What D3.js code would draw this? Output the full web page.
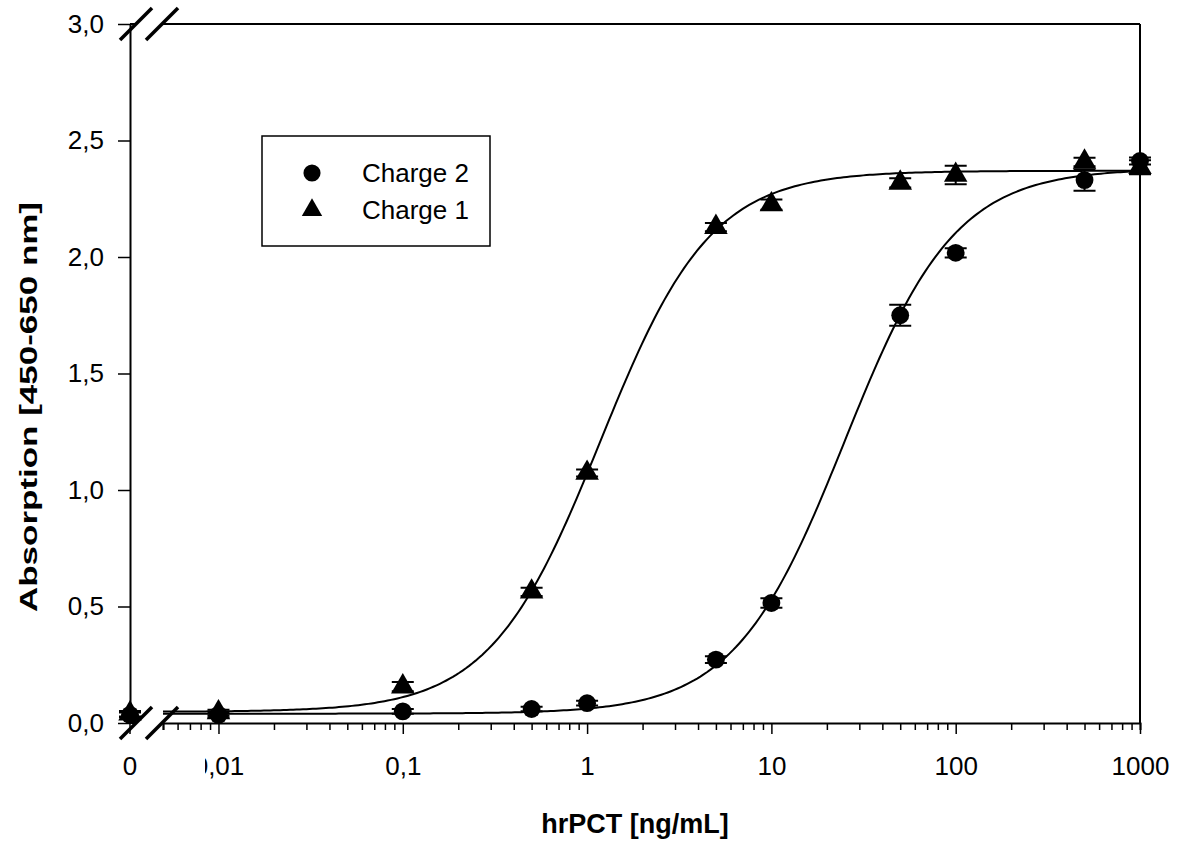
<!DOCTYPE html>
<html>
<head>
<meta charset="utf-8">
<script src="https://cdn.jsdelivr.net/npm/d3@7"></script>
<style>
  body { margin: 0; background: #fff; }
  svg { display: block; }
  text { font-family: "Liberation Sans", Arial, sans-serif; fill: #000; }
</style>
</head>
<body>
<div id="chart"></div>
<script>
// concentrations in ng/mL (0 sits left of the axis break)
const concentrations = [0, 0.01, 0.1, 0.5, 1, 5, 10, 50, 100, 500, 1000]

const charge1 = [0.04, 0.045, 0.156, 0.563, 1.073, 2.128, 2.225, 2.318, 2.352, 2.408, 2.385]
const charge1Err = [0.012, 0.012, 0.02, 0.018, 0.015, 0.018, 0.022, 0.02, 0.04, 0.018, 0.03]

const charge2 = [0.035, 0.035, 0.05, 0.06, 0.085, 0.272, 0.515, 1.75, 2.018, 2.33, 2.412]
const charge2Err = [0.01, 0.01, 0.01, 0.01, 0.01, 0.015, 0.02, 0.045, 0.02, 0.046, 0.015]

// 4-parameter logistic fit: [bottom, top, ec50, hill]
const fit1 = [0.048, 2.37, 1.18, 1.45]
const fit2 = [0.04, 2.38, 25, 1.45]

const yTicks = [0, 0.5, 1, 1.5, 2, 2.5, 3]
const xMajorTicks = [0.01, 0.1, 1, 10, 100, 1000]
const xMinorMultipliers = [2, 3, 4, 5, 6, 7, 8, 9]
const xZeroLabel = "0"
const legendLabels = ["Charge 2", "Charge 1"]

const svgWidth = 1179
const svgHeight = 845

const plotLeft = 130
const plotRight = 1140
const plotTop = 24
const plotBottom = 723
const logStart = 163   // where the log part of the axis starts, right of the break
const xMin = 0.005

const tickFont = 26

const fmtComma = (v) => String(v).replace(".", ",")

const svg = d3.select("#chart")
  .append("svg")
  .attr("width", svgWidth)
  .attr("height", svgHeight)

const x = d3.scaleLog().domain([xMin, 1000]).range([logStart, plotRight])
const y = d3.scaleLinear().domain([0, 3]).range([plotBottom, plotTop])

const xPos = (c) => (c === 0 ? plotLeft : x(c))

// minor ticks inside the log segment
const minorTicks = []
for (let e = -3; e <= 2; e++) {
  xMinorMultipliers.forEach((m) => {
    const v = m * Math.pow(10, e)
    if (v >= xMin && v <= 1000) minorTicks.push(v)
  })
}

// ---- axes ----
const axisStroke = 2

// y axis (left)
const yAxis = svg.append("g")
  .attr("transform", `translate(${plotLeft},0)`)
  .call(d3.axisLeft(y).tickValues(yTicks).tickSizeOuter(0).tickSizeInner(12).tickPadding(14)
    .tickFormat((d) => fmtComma(d3.format(".1f")(d))))
yAxis.select(".domain").attr("stroke-width", axisStroke)
yAxis.selectAll(".tick line").attr("stroke-width", 1.5)
yAxis.selectAll(".tick text").attr("font-size", tickFont)

// right axis line
svg.append("line")
  .attr("x1", plotRight).attr("x2", plotRight)
  .attr("y1", plotTop).attr("y2", plotBottom)
  .attr("stroke", "#000").attr("stroke-width", axisStroke)

// x axis, minor ticks
const xMinor = svg.append("g")
  .attr("transform", `translate(0,${plotBottom})`)
  .call(d3.axisBottom(x).tickValues(minorTicks).tickSize(7).tickFormat(""))
xMinor.select(".domain").attr("stroke-width", axisStroke)
xMinor.selectAll(".tick line").attr("stroke-width", 1.5)

// x axis, major ticks
const xMajor = svg.append("g")
  .attr("transform", `translate(0,${plotBottom})`)
  .call(d3.axisBottom(x).tickValues(xMajorTicks).tickSize(11).tickPadding(23)
    .tickFormat((d) => fmtComma(d)))
xMajor.select(".domain").remove()
xMajor.selectAll(".tick line").attr("stroke-width", 1.5)
xMajor.selectAll(".tick text").attr("font-size", tickFont)

// zero tick left of the break
svg.append("line")
  .attr("x1", plotLeft).attr("x2", plotLeft)
  .attr("y1", plotBottom).attr("y2", plotBottom + 11)
  .attr("stroke", "#000").attr("stroke-width", 1.5)
svg.append("text")
  .attr("x", plotLeft).attr("y", plotBottom + 11 + 23)
  .attr("dy", "0.71em")
  .attr("text-anchor", "middle")
  .attr("font-size", tickFont)
  .text(xZeroLabel)

// the break gap hides the start of the first log label
svg.append("rect")
  .attr("x", 180).attr("y", plotBottom + 14)
  .attr("width", 25).attr("height", 40)
  .attr("fill", "#fff")

// top axis and short stubs left of the break
;[plotTop, plotBottom].forEach((yy) => {
  svg.append("line")
    .attr("x1", plotLeft).attr("x2", 137)
    .attr("y1", yy).attr("y2", yy)
    .attr("stroke", "#000").attr("stroke-width", axisStroke)
})
svg.append("line")
  .attr("x1", logStart).attr("x2", plotRight)
  .attr("y1", plotTop).attr("y2", plotTop)
  .attr("stroke", "#000").attr("stroke-width", axisStroke)

// break marks
;[plotTop, plotBottom].forEach((yy) => {
  ;[136, 162].forEach((cx) => {
    svg.append("line")
      .attr("x1", cx - 16).attr("y1", yy + 16)
      .attr("x2", cx + 16).attr("y2", yy - 16)
      .attr("stroke", "#000").attr("stroke-width", 3.5)
  })
})

// axis titles
svg.append("text")
  .attr("x", (plotLeft + plotRight) / 2)
  .attr("y", 833)
  .attr("text-anchor", "middle")
  .attr("font-size", 27)
  .attr("font-weight", "bold")
  .text("hrPCT [ng/mL]")

svg.append("text")
  .attr("transform", "translate(37,407) rotate(-90)")
  .attr("text-anchor", "middle")
  .attr("font-size", 24)
  .attr("font-weight", "bold")
  .attr("textLength", 410)
  .attr("lengthAdjust", "spacingAndGlyphs")
  .text("Absorption [450-650 nm]")

// ---- fitted curves ----
const logistic = (p) => (c) => p[0] + (p[1] - p[0]) / (1 + Math.pow(p[2] / c, p[3]))
const curveXs = d3.range(0, 301).map((i) => xMin * Math.pow(1000 / xMin, i / 300))

const line = d3.line()
  .x((d) => x(d[0]))
  .y((d) => y(d[1]))

;[fit1, fit2].forEach((p) => {
  const f = logistic(p)
  svg.append("path")
    .datum(curveXs.map((c) => [c, f(c)]))
    .attr("fill", "none")
    .attr("stroke", "#000")
    .attr("stroke-width", 2)
    .attr("d", line)
})

// ---- points with error bars ----
const capHalf = 11

function drawSeries(values, errs, symbolType, size) {
  const data = concentrations.map((c, i) => ({ c, v: values[i], e: errs[i] }))
  const g = svg.append("g")

  g.selectAll(".err")
    .data(data)
    .enter()
    .append("path")
    .attr("fill", "none")
    .attr("stroke", "#000")
    .attr("stroke-width", 2)
    .attr("d", (d) => {
      const cx = xPos(d.c)
      const y0 = y(d.v - d.e)
      const y1 = y(d.v + d.e)
      return `M${cx},${y0}V${y1}M${cx - capHalf},${y0}H${cx + capHalf}M${cx - capHalf},${y1}H${cx + capHalf}`
    })

  g.selectAll(".pt")
    .data(data)
    .enter()
    .append("path")
    .attr("transform", (d) => `translate(${xPos(d.c)},${y(d.v)})`)
    .attr("d", d3.symbol().type(symbolType).size(size))
    .attr("fill", "#000")
}

drawSeries(charge2, charge2Err, d3.symbolCircle, 250)
drawSeries(charge1, charge1Err, d3.symbolTriangle, 240)

// ---- legend ----
const legend = svg.append("g")
legend.append("rect")
  .attr("x", 262).attr("y", 136)
  .attr("width", 228).attr("height", 110)
  .attr("fill", "#fff")
  .attr("stroke", "#000")
  .attr("stroke-width", 1.5)

const legendSymbols = [d3.symbolCircle, d3.symbolTriangle]
legendLabels.forEach((label, i) => {
  const ly = 173 + i * 37
  legend.append("path")
    .attr("transform", `translate(312,${ly})`)
    .attr("d", d3.symbol().type(legendSymbols[i]).size(i === 0 ? 230 : 180))
    .attr("fill", "#000")
  legend.append("text")
    .attr("x", 362).attr("y", ly)
    .attr("dy", "0.35em")
    .attr("font-size", 26)
    .text(label)
})
</script>
</body>
</html>
